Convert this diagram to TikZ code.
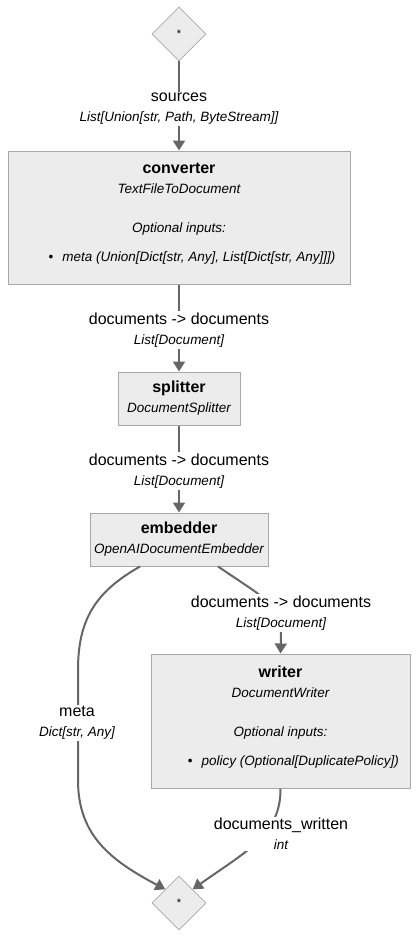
\documentclass[tikz,border=0pt]{standalone}
\usepackage{fontspec}
\setmainfont{Liberation Sans}
\usetikzlibrary{shapes, arrows, positioning, calc}
\usetikzlibrary{arrows.meta}

\definecolor{boxfill}{HTML}{ECECEC}
\definecolor{boxline}{HTML}{A8A8A8}
\definecolor{edgecol}{HTML}{666666}

\newcommand{\lblfont}{\fontsize{16}{20}\selectfont}
\newcommand{\typefont}{\fontsize{13.5}{20}\selectfont\itshape}

\begin{document}
\begin{tikzpicture}[x=1pt, y=-1pt,
  comp/.style={draw=boxline, fill=boxfill, line width=1pt, inner sep=0pt, align=center, font=\lblfont},
  star/.style={diamond, draw=boxline, fill=boxfill, line width=0.8pt, minimum width=54pt, minimum height=54pt, inner sep=0pt, font=\fontsize{11}{11}\selectfont},
  lbl/.style={fill=white, align=center, inner sep=1.5pt, font=\lblfont},
  inside/.style={align=center, inner sep=0pt, font=\lblfont},
  flow/.style={draw=edgecol, line width=2pt, -{Triangle[length=10pt, width=12pt]}}]
\useasboundingbox (0,0) rectangle (418,939);

% Components
\node[star] (top) at (179,34) {*};
\node[comp, minimum width=342pt, minimum height=133pt] (converter) at (179,217.5) {};
\node[inside, anchor=north] (convertertext) at (179,163) {\textbf{converter}\\
  {\typefont TextFileToDocument}\\[19pt]
  {\typefont Optional inputs:}\\[9pt]
  {\typefont\hspace*{26pt}{\upshape\textbullet}\hspace{9pt}meta (Union[Dict[str, Any], List[Dict[str, Any]]])}};
\node[comp, minimum width=122pt, minimum height=53pt] (splitter) at (179,398.5) {\textbf{splitter}\\{\typefont DocumentSplitter}};
\node[comp, minimum width=178pt, minimum height=53pt] (embedder) at (179,539.5) {\textbf{embedder}\\{\typefont OpenAIDocumentEmbedder}};
\node[comp, minimum width=259pt, minimum height=134pt] (writer) at (280.5,721) {};
\node[inside, anchor=north] (writertext) at (280.5,666) {\textbf{writer}\\
  {\typefont DocumentWriter}\\[19pt]
  {\typefont Optional inputs:}\\[9pt]
  {\typefont\hspace*{26pt}{\upshape\textbullet}\hspace{9pt}policy (Optional[DuplicatePolicy])}};
\node[star] (bottom) at (179,903) {*};

% Straight connections
\draw[flow] (top) -- node[lbl, yshift=-3pt] (sourceslbl) {sources\\{\typefont List[Union[str, Path, ByteStream]]}} (converter);
\draw[flow] (converter) -- node[lbl, yshift=-2pt] (convlbl) {documents -> documents\\{\typefont List[Document]}} (splitter);
\draw[flow] (splitter) -- node[lbl, yshift=-2pt] (splitlbl) {documents -> documents\\{\typefont List[Document]}} (embedder);

% Curved connections
\coordinate (embedright) at ([xshift=39pt]embedder.south);
\coordinate (embedleft) at ([xshift=-39pt]embedder.south);
\draw[flow] (embedright) -- (250,588) .. controls (272,603) and (281,615) .. (281,635) -- (writer.north);
\node[lbl] (embedlbl) at (281,613) {documents -> documents\\{\typefont List[Document]}};
\draw[flow] (embedleft) .. controls (95,592) and (78,620) .. (78,670) -- (78,780) .. controls (78,835) and (110,860) .. (bottom.north west);
\node[lbl] (metalbl) at (77,723) {meta\\{\typefont Dict[str, Any]}};
\draw[flow] (writer.south) .. controls (281,835) and (245,852) .. (bottom.north east);
\node[lbl] (writtenlbl) at (281,834) {documents\_written\\{\typefont int}};

\end{tikzpicture}
\end{document}
